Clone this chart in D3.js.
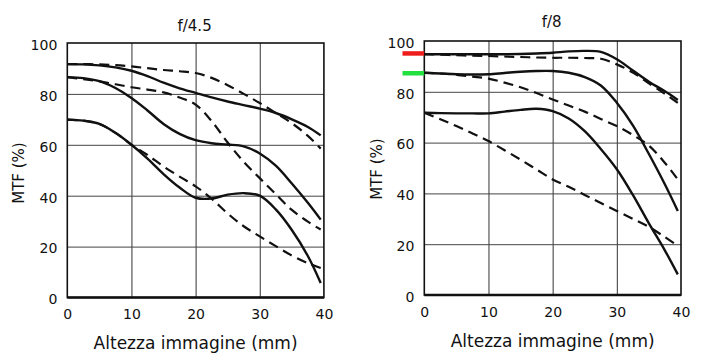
<!DOCTYPE html>
<html>
<head>
<meta charset="utf-8">
<script src="https://cdn.jsdelivr.net/npm/d3@7"></script>
<style>
  html, body { margin: 0; padding: 0; background: #fff; }
  svg { display: block; }
  text { font-family: "DejaVu Sans", sans-serif; fill: #111; }
</style>
</head>
<body>
<svg id="chart" width="707" height="360"></svg>
<script>
// ---------------- DATA ----------------
const panelTitles = ["f/4.5", "f/8"];
const xTickValues = [0, 10, 20, 30, 40];
const yTickValues = [0, 20, 40, 60, 80, 100];
const xAxisLabel = "Altezza immagine (mm)";
const yAxisLabel = "MTF (%)";

// image height (mm) at which every curve was read
const imageHeight = [0, 2.5, 5, 7.5, 10, 12.5, 15, 17.5, 20, 22.5, 25, 27.5, 30, 32.5, 35, 37.5, 39.5];

// f/4.5 panel
const f45Solid1  = [91.7, 91.6, 91.2, 90.4, 89.1, 87.0, 84.4, 82.2, 80.4, 78.6, 77.0, 75.6, 74.2, 72.5, 70.0, 67.0, 63.7];
const f45Dashed1 = [91.7, 91.7, 91.6, 91.3, 90.8, 90.1, 89.4, 88.9, 88.2, 86.3, 83.4, 80.0, 76.4, 72.5, 68.5, 63.5, 58.5];
const f45Solid2  = [86.6, 86.2, 85.0, 82.3, 78.4, 73.5, 68.2, 64.3, 61.8, 60.6, 60.1, 59.4, 56.6, 51.8, 44.8, 37.2, 30.6];
const f45Dashed2 = [86.6, 85.8, 84.9, 83.8, 82.6, 81.7, 80.6, 78.6, 75.8, 69.3, 60.9, 53.3, 46.9, 40.6, 34.4, 29.8, 26.7];
const f45Solid3  = [69.9, 69.5, 68.2, 64.7, 60.0, 54.6, 48.5, 43.2, 39.2, 38.9, 40.4, 41.0, 40.0, 34.6, 26.5, 16.3, 5.7];
const f45Dashed3 = [69.9, 69.5, 68.2, 64.7, 60.0, 56.0, 51.5, 47.5, 43.7, 38.8, 33.0, 28.0, 24.0, 20.2, 16.5, 13.5, 11.6];

// f/8 panel
const f8Solid1  = [94.8, 94.8, 94.8, 94.8, 94.8, 94.8, 94.9, 95.1, 95.4, 95.9, 96.1, 95.7, 92.8, 88.4, 84.0, 80.2, 76.8];
const f8Dashed1 = [94.8, 94.6, 94.4, 94.2, 94.1, 93.9, 93.7, 93.5, 93.4, 93.4, 93.3, 93.0, 90.8, 87.6, 83.3, 79.2, 75.6];
const f8Solid2  = [87.5, 87.2, 86.9, 86.8, 86.9, 87.4, 87.9, 88.2, 88.2, 87.5, 85.8, 82.5, 75.7, 66.8, 55.5, 43.5, 33.1];
const f8Dashed2 = [87.5, 87.2, 86.7, 86.0, 85.2, 83.6, 81.8, 79.5, 77.0, 74.6, 72.2, 69.3, 66.5, 63.0, 58.8, 52.0, 45.5];
const f8Solid3  = [71.8, 71.6, 71.5, 71.5, 71.5, 72.2, 72.9, 73.3, 72.4, 69.5, 64.5, 57.5, 49.5, 39.4, 28.2, 17.5, 8.1];
const f8Dashed3 = [71.8, 69.2, 66.5, 63.6, 60.6, 57.0, 53.3, 49.4, 45.5, 42.6, 39.4, 36.2, 33.1, 30.0, 26.8, 22.8, 19.3];

// reference marks on the f/8 axis (value, colour)
const markerValues = [95.1, 87.3];
const markerColors = ["#ee1c1c", "#22e040"];

// ---------------- LAYOUT ----------------
const panels = [
  {
    title: panelTitles[0],
    solid: [f45Solid1, f45Solid2, f45Solid3],
    dashed: [f45Dashed1, f45Dashed2, f45Dashed3],
    x0: 67.3, x1: 323.9, yTop: 43, yBot: 297.5,
    titleY: 31, yLabelX: 24, yLabelY: 173, xLabelY: 349,
    markers: false
  },
  {
    title: panelTitles[1],
    solid: [f8Solid1, f8Solid2, f8Solid3],
    dashed: [f8Dashed1, f8Dashed2, f8Dashed3],
    x0: 424.3, x1: 681, yTop: 41, yBot: 295,
    titleY: 27, yLabelX: 382, yLabelY: 169, xLabelY: 347,
    markers: true
  }
];

const svg = d3.select("#chart");

panels.forEach(p => {
  const x = d3.scaleLinear().domain([0, 40]).range([p.x0, p.x1]);
  const y = d3.scaleLinear().domain([0, 100]).range([p.yBot, p.yTop]);
  const g = svg.append("g");

  // gridlines
  g.append("g")
    .attr("transform", `translate(0,${p.yBot})`)
    .call(d3.axisBottom(x).tickValues(xTickValues.slice(1, -1)).tickSize(-(p.yBot - p.yTop)).tickFormat(""))
    .call(a => a.select(".domain").remove())
    .call(a => a.selectAll("line").attr("stroke", "#333").attr("stroke-width", 1));
  g.append("g")
    .attr("transform", `translate(${p.x0},0)`)
    .call(d3.axisLeft(y).tickValues(yTickValues.slice(1, -1)).tickSize(-(p.x1 - p.x0)).tickFormat(""))
    .call(a => a.select(".domain").remove())
    .call(a => a.selectAll("line").attr("stroke", "#444").attr("stroke-width", 1));

  // frame
  g.append("rect")
    .attr("x", p.x0).attr("y", p.yTop)
    .attr("width", p.x1 - p.x0).attr("height", p.yBot - p.yTop)
    .attr("fill", "none").attr("stroke", "#111").attr("stroke-width", 1.6);
  g.append("line")
    .attr("x1", p.x0).attr("x2", p.x1).attr("y1", p.yBot).attr("y2", p.yBot)
    .attr("stroke", "#111").attr("stroke-width", 2.4);

  // tick labels
  g.append("g")
    .attr("transform", `translate(0,${p.yBot})`)
    .call(d3.axisBottom(x).tickValues(xTickValues).tickSize(0).tickPadding(12))
    .call(a => a.select(".domain").remove())
    .call(a => a.selectAll("text").style("font-size", "14px").style("font-family", "DejaVu Sans").attr("fill", "#111"));
  g.append("g")
    .attr("transform", `translate(${p.x0},0)`)
    .call(d3.axisLeft(y).tickValues(yTickValues).tickSize(0).tickPadding(10))
    .call(a => a.select(".domain").remove())
    .call(a => a.selectAll("text").style("font-size", "14px").style("font-family", "DejaVu Sans").attr("fill", "#111").attr("dy", "0.45em"));

  // markers
  if (p.markers) {
    markerValues.forEach((v, i) => {
      g.append("line")
        .attr("x1", x(-3.4)).attr("x2", x(0))
        .attr("y1", y(v)).attr("y2", y(v))
        .attr("stroke", markerColors[i]).attr("stroke-width", 4.5);
    });
  }

  // curves
  const line = d3.line()
    .x((d, i) => x(imageHeight[i]))
    .y(d => y(d))
    .curve(d3.curveCatmullRom.alpha(0.5));

  p.dashed.forEach(s => {
    g.append("path").attr("d", line(s))
      .attr("fill", "none").attr("stroke", "#111").attr("stroke-width", 2.2)
      .attr("stroke-dasharray", "10,6");
  });
  p.solid.forEach(s => {
    g.append("path").attr("d", line(s))
      .attr("fill", "none").attr("stroke", "#111").attr("stroke-width", 2.4);
  });

  // titles & labels
  const cx = (p.x0 + p.x1) / 2;
  svg.append("text").attr("x", cx - 1).attr("y", p.titleY)
    .attr("text-anchor", "middle").style("font-size", "15px").text(p.title);
  svg.append("text").attr("x", cx).attr("y", p.xLabelY)
    .attr("text-anchor", "middle").style("font-size", "17px").text(xAxisLabel);
  svg.append("text")
    .attr("transform", `translate(${p.yLabelX},${p.yLabelY}) rotate(-90)`)
    .attr("text-anchor", "middle").style("font-size", "15px").text(yAxisLabel);
});
</script>
</body>
</html>
